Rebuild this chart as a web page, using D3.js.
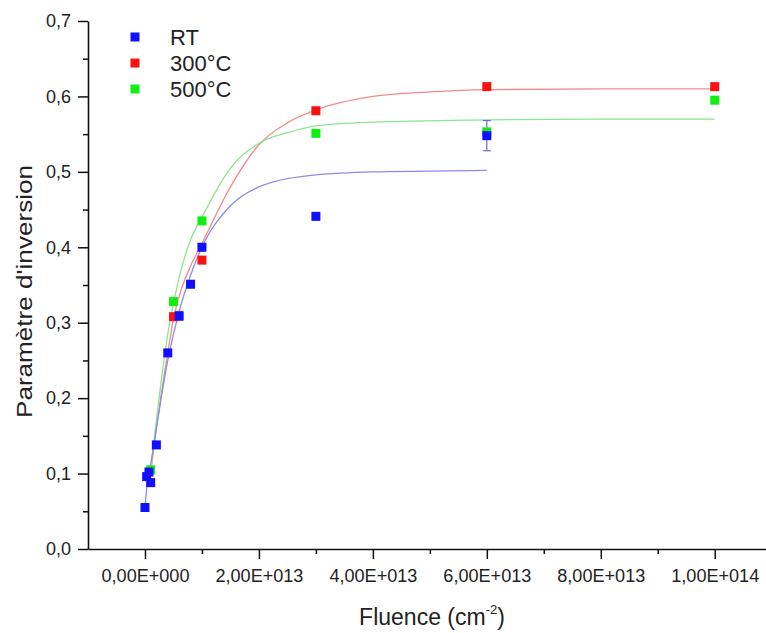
<!DOCTYPE html>
<html>
<head>
<meta charset="utf-8">
<script src="https://cdn.jsdelivr.net/npm/d3@7/dist/d3.min.js"></script>
<style>
  html, body { margin: 0; padding: 0; background: #ffffff; }
  svg { display: block; font-family: "Liberation Sans", Arial, sans-serif; }
</style>
</head>
<body>
<svg id="chart" width="766" height="633"></svg>
<script>
// ---- Data ----
const seriesNames = ["RT", "300°C", "500°C"];
const seriesColors = ["#1010ff", "#ff1010", "#10f010"];
const fitColors = ["#8c8ce6", "#f08c8c", "#8ce68c"];

// RT (room temperature) measured points
const rtX = [0, 3e11, 7e11, 1e12, 2e12, 4e12, 6e12, 8e12, 1e13, 3e13, 6e13];
const rtY = [0.055, 0.096, 0.102, 0.088, 0.138, 0.260, 0.309, 0.351, 0.400, 0.441, 0.548];
const rtErr = [0, 0, 0, 0, 0, 0, 0.006, 0, 0, 0, 0.020];

// 300°C measured points
const t300X = [5e12, 1e13, 3e13, 6e13, 1e14];
const t300Y = [0.308, 0.383, 0.581, 0.613, 0.613];

// 500°C measured points
const t500X = [1e12, 5e12, 1e13, 3e13, 6e13, 1e14];
const t500Y = [0.105, 0.328, 0.435, 0.551, 0.553, 0.595];

// Fitted curves
const rtFitX = [0, 5e11, 1e12, 2e12, 4e12, 6e12, 8e12, 1e13, 1.5e13, 2e13, 3e13, 4e13, 5e13, 6e13];
const rtFitY = [0.055, 0.095, 0.113, 0.160, 0.250, 0.315, 0.363, 0.400, 0.455, 0.480, 0.496, 0.500, 0.501, 0.502];
const t300FitX = [1e12, 2e12, 4e12, 5e12, 6e12, 8e12, 1e13, 1.5e13, 2e13, 2.5e13, 3e13, 4e13, 5e13, 6e13, 8e13, 1e14];
const t300FitY = [0.100, 0.160, 0.260, 0.305, 0.335, 0.375, 0.405, 0.480, 0.536, 0.565, 0.582, 0.600, 0.606, 0.609, 0.610, 0.610];
const t500FitX = [1e12, 2e12, 4e12, 5e12, 6e12, 8e12, 1e13, 1.5e13, 2e13, 2.5e13, 3e13, 4e13, 6e13, 8e13, 1e14];
const t500FitY = [0.105, 0.170, 0.285, 0.325, 0.360, 0.410, 0.440, 0.505, 0.538, 0.552, 0.561, 0.566, 0.569, 0.570, 0.570];

const yTicks = [0, 0.1, 0.2, 0.3, 0.4, 0.5, 0.6, 0.7];
const yMinorTicks = [0.05, 0.15, 0.25, 0.35, 0.45, 0.55, 0.65];
const xTicks = [0, 2e13, 4e13, 6e13, 8e13, 1e14];
const xTickLabels = ["0,00E+000", "2,00E+013", "4,00E+013", "6,00E+013", "8,00E+013", "1,00E+014"];
const xMinorTicks = [1e13, 3e13, 5e13, 7e13, 9e13];

const xTitle = "Fluence (cm";
const xTitleSup = "-2";
const yTitle = "Paramètre d'inversion";

// ---- Chart ----
const svg = d3.select("#chart");
const x = d3.scaleLinear().domain([-1e13, 1.09e14]).range([88, 766]);
const y = d3.scaleLinear().domain([0, 0.7]).range([549, 21]);

const fmtY = d => d.toFixed(1).replace(".", ",");

// minor y ticks
svg.append("g").attr("transform", `translate(${x(-1e13)},0)`)
  .call(d3.axisLeft(y).tickValues(yMinorTicks).tickSize(5).tickSizeOuter(0).tickFormat(""))
  .call(g => g.select(".domain").remove())
  .call(g => g.selectAll("line").attr("stroke", "#111").attr("stroke-width", 1.5));

// minor x ticks
svg.append("g").attr("transform", `translate(0,${y(0)})`)
  .call(d3.axisBottom(x).tickValues(xMinorTicks).tickSize(5).tickSizeOuter(0).tickFormat(""))
  .call(g => g.select(".domain").remove())
  .call(g => g.selectAll("line").attr("stroke", "#111").attr("stroke-width", 1.5));

// major y axis
svg.append("g").attr("transform", `translate(${x(-1e13)},0)`)
  .call(d3.axisLeft(y).tickValues(yTicks).tickSize(10).tickSizeOuter(0).tickPadding(7).tickFormat(fmtY))
  .call(g => g.select(".domain").attr("stroke", "#111").attr("stroke-width", 1.6))
  .call(g => g.selectAll("line").attr("stroke", "#111").attr("stroke-width", 1.5))
  .call(g => g.selectAll("text").attr("font-size", 18).attr("fill", "#222")
    .attr("font-family", "'Liberation Sans', Arial, sans-serif"));

// major x axis
svg.append("g").attr("transform", `translate(0,${y(0)})`)
  .call(d3.axisBottom(x).tickValues(xTicks).tickSize(10).tickSizeOuter(0).tickPadding(10)
    .tickFormat((d, i) => xTickLabels[i]))
  .call(g => g.select(".domain").attr("stroke", "#111").attr("stroke-width", 1.6))
  .call(g => g.selectAll("line").attr("stroke", "#111").attr("stroke-width", 1.5))
  .call(g => g.selectAll("text").attr("font-size", 18).attr("fill", "#222")
    .attr("font-family", "'Liberation Sans', Arial, sans-serif")
    .attr("textLength", 88).attr("lengthAdjust", "spacingAndGlyphs"));

// axis titles
const xt = svg.append("text")
  .attr("x", 432).attr("y", 625)
  .attr("text-anchor", "middle")
  .attr("font-size", 23).attr("fill", "#222");
xt.append("tspan").text(xTitle);
xt.append("tspan").attr("font-size", 13).attr("dy", -11).text(xTitleSup);
xt.append("tspan").attr("dy", 11).text(")");

svg.append("text")
  .attr("transform", `translate(32,${(165 + 418) / 2}) rotate(-90)`)
  .attr("text-anchor", "middle")
  .attr("font-size", 22).attr("fill", "#222")
  .attr("textLength", 253).attr("lengthAdjust", "spacingAndGlyphs")
  .text(yTitle);

// fit curves
const line = d3.line().x(d => x(d[0])).y(d => y(d[1])).curve(d3.curveMonotoneX);
const fits = [
  [t300FitX, t300FitY, fitColors[1]],
  [t500FitX, t500FitY, fitColors[2]],
  [rtFitX, rtFitY, fitColors[0]]
];
fits.forEach(([xs, ys, c]) => {
  svg.append("path")
    .datum(xs.map((v, i) => [v, ys[i]]))
    .attr("d", line)
    .attr("fill", "none")
    .attr("stroke", c)
    .attr("stroke-width", 1.3);
});

// error bars (RT)
const errData = rtX.map((v, i) => ({ x: v, y: rtY[i], e: rtErr[i] })).filter(d => d.e > 0);
const eg = svg.append("g").attr("stroke", "#6a6ad8").attr("stroke-width", 1.2);
errData.forEach(d => {
  eg.append("line").attr("x1", x(d.x)).attr("x2", x(d.x)).attr("y1", y(d.y - d.e)).attr("y2", y(d.y + d.e));
  eg.append("line").attr("x1", x(d.x) - 4).attr("x2", x(d.x) + 4).attr("y1", y(d.y - d.e)).attr("y2", y(d.y - d.e));
  eg.append("line").attr("x1", x(d.x) - 4).attr("x2", x(d.x) + 4).attr("y1", y(d.y + d.e)).attr("y2", y(d.y + d.e));
});

// points
const S = 9;
const pts = [
  [t300X, t300Y, seriesColors[1]],
  [t500X, t500Y, seriesColors[2]],
  [rtX, rtY, seriesColors[0]]
];
pts.forEach(([xs, ys, c]) => {
  svg.append("g").selectAll("rect")
    .data(xs.map((v, i) => [v, ys[i]]))
    .join("rect")
    .attr("x", d => x(d[0]) - S / 2)
    .attr("y", d => y(d[1]) - S / 2)
    .attr("width", S).attr("height", S)
    .attr("fill", c);
});

// legend
const lg = svg.append("g");
seriesNames.forEach((n, i) => {
  const cy = 37 + i * 26;
  lg.append("rect").attr("x", 135 - S / 2).attr("y", cy - S / 2).attr("width", S).attr("height", S)
    .attr("fill", seriesColors[i]);
  lg.append("text").attr("x", 170).attr("y", cy + 8).attr("font-size", 22).attr("fill", "#222").text(n);
});
</script>
</body>
</html>
